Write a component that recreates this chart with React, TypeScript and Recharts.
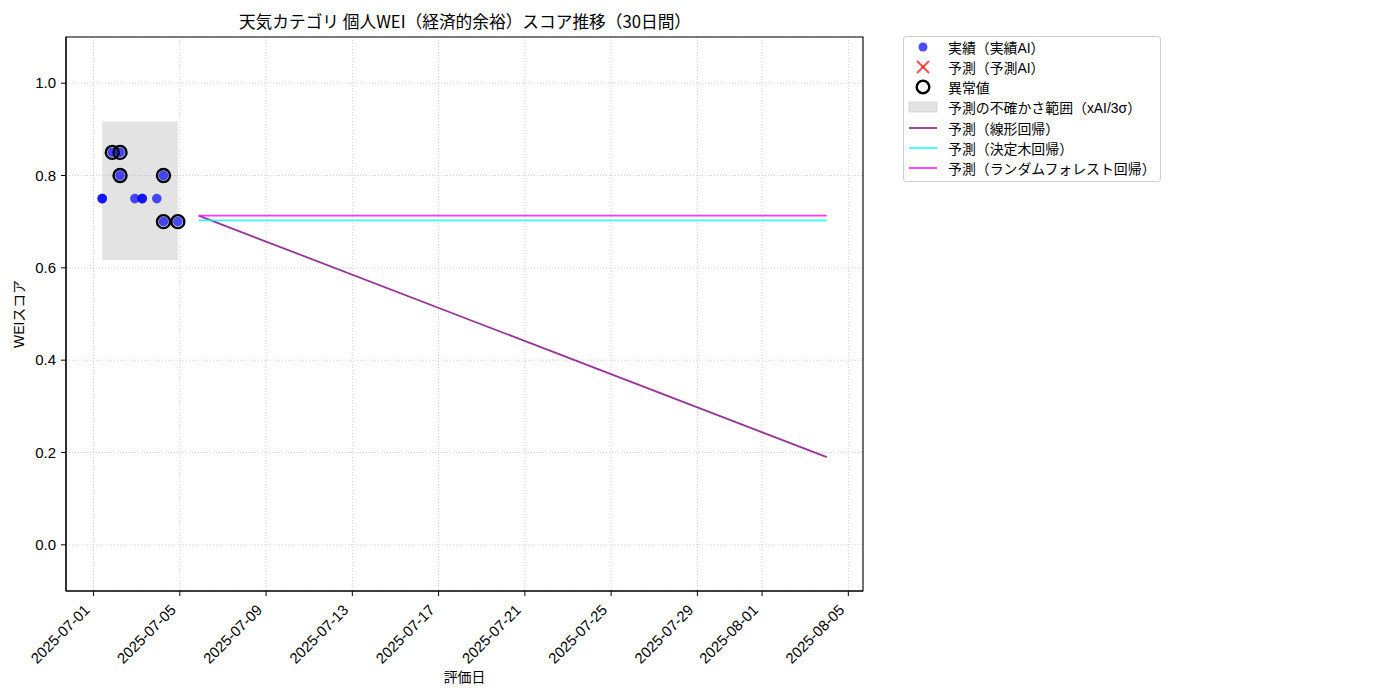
import React from 'react';
import { CartesianGrid, ComposedChart, Line, ReferenceArea, Scatter, XAxis, YAxis } from 'recharts';

const FONT = '"Noto Sans CJK JP", "Noto Sans", sans-serif';
const LATIN = '"Liberation Sans", "Noto Sans CJK JP", sans-serif';

// actual scores (実績AI)
const actualDates = [
  '2025-07-01T09:40', '2025-07-01T09:40', '2025-07-01T20:50', '2025-07-02T05:30', '2025-07-02T05:30',
  '2025-07-02T22:00', '2025-07-03T06:10', '2025-07-03T06:10', '2025-07-03T22:25', '2025-07-04T05:50',
  '2025-07-04T05:50', '2025-07-04T21:50',
];
const actualScores = [0.75, 0.75, 0.85, 0.85, 0.8, 0.75, 0.75, 0.75, 0.75, 0.8, 0.7, 0.7];

// anomalies (異常値)
const anomalyDates = [
  '2025-07-01T20:50', '2025-07-02T05:30', '2025-07-02T05:30', '2025-07-04T05:50', '2025-07-04T05:50',
  '2025-07-04T21:50',
];
const anomalyScores = [0.85, 0.85, 0.8, 0.8, 0.7, 0.7];

// forecasts
const forecastDates = ['2025-07-05T21:00', '2025-08-04T00:00'];
const linearForecast = [0.713, 0.19];
const treeForecast = [0.703, 0.703];
const forestForecast = [0.713, 0.713];

// uncertainty band (xAI/3σ)
const bandLower = 0.617;
const bandUpper = 0.917;

const tickDates = [
  '2025-07-01', '2025-07-05', '2025-07-09', '2025-07-13', '2025-07-17',
  '2025-07-21', '2025-07-25', '2025-07-29', '2025-08-01', '2025-08-05',
];
const yTicks = [0, 0.2, 0.4, 0.6, 0.8, 1.0];

const toTime = (s: string) => Date.parse(s.length === 10 ? s + 'T00:00:00Z' : s + ':00Z');
const zip = (dates: string[], vals: number[]) => dates.map((d, i) => ({ t: toTime(d), v: vals[i] }));

const actualData = zip(actualDates, actualScores);
const anomalyData = zip(anomalyDates, anomalyScores);
const linearData = zip(forecastDates, linearForecast);
const treeData = zip(forecastDates, treeForecast);
const forestData = zip(forecastDates, forestForecast);

const allTimes = [...actualData, ...linearData].map((d) => d.t);
const tMin = Math.min(...allTimes);
const tMax = Math.max(...allTimes);
const pad = (tMax - tMin) * 0.05;
const xDomain: [number, number] = [tMin - pad, tMax + pad];
const actualMin = Math.min(...actualData.map((d) => d.t));
const actualMax = Math.max(...actualData.map((d) => d.t));

const DateTick = (props: any) => {
  const { x, y, payload } = props;
  const label = new Date(payload.value).toISOString().slice(0, 10);
  return (
    <g transform={`translate(${x - 3},${y + 13})`}>
      <text textAnchor="end" transform="rotate(-45)" fontSize={14.8} fontFamily={LATIN} fill="#000">
        {label}
      </text>
    </g>
  );
};

const legendItems = [
  { key: 'actual', label: '実績（実績AI）' },
  { key: 'pred', label: '予測（予測AI）' },
  { key: 'anomaly', label: '異常値' },
  { key: 'band', label: '予測の不確かさ範囲（xAI/3σ）' },
  { key: 'linear', label: '予測（線形回帰）', color: '#800080' },
  { key: 'tree', label: '予測（決定木回帰）', color: '#00ffff' },
  { key: 'forest', label: '予測（ランダムフォレスト回帰）', color: '#ff00ff' },
];

function LegendMarker({ item }: { item: (typeof legendItems)[number] }) {
  const cy = 10;
  if (item.key === 'actual') return <circle cx={14} cy={cy} r={4.5} fill="#0000ff" fillOpacity={0.7} />;
  if (item.key === 'pred')
    return (
      <g stroke="#ff0000" strokeOpacity={0.7} strokeWidth={2}>
        <line x1={8} y1={cy - 6} x2={20} y2={cy + 6} />
        <line x1={8} y1={cy + 6} x2={20} y2={cy - 6} />
      </g>
    );
  if (item.key === 'anomaly') return <circle cx={14} cy={cy} r={6.3} fill="none" stroke="#000" strokeWidth={2.4} />;
  if (item.key === 'band')
    return <rect x={0} y={cy - 5} width={28} height={10} fill="#808080" fillOpacity={0.22} stroke="#c8c8c8" strokeWidth={0.6} />;
  return <line x1={0} y1={cy} x2={28} y2={cy} stroke={item.color} strokeOpacity={0.8} strokeWidth={1.8} />;
}

export default function App() {
  return (
    <div style={{ position: 'absolute', left: 0, top: 0, width: 1400, height: 700, fontFamily: FONT, background: '#fff' }}>
      <ComposedChart width={1400} height={700} margin={{ top: 37, right: 537, bottom: 0, left: 0 }}>
        <CartesianGrid stroke="#c4c4c4" strokeWidth={0.8} strokeDasharray="1.1 1.9" />
        <XAxis
          type="number"
          dataKey="t"
          domain={xDomain}
          allowDataOverflow
          ticks={tickDates.map(toTime)}
          height={109}
          tickSize={5}
          tickLine={{ stroke: '#000' }}
          axisLine={{ stroke: '#000', strokeWidth: 1.1 }}
          tick={<DateTick />}
          interval={0}
        />
        <YAxis
          type="number"
          dataKey="v"
          domain={[-0.1, 1.1]}
          allowDataOverflow
          ticks={yTicks}
          width={66}
          tickSize={5}
          tickMargin={5}
          tickLine={{ stroke: '#000' }}
          axisLine={{ stroke: '#000', strokeWidth: 1.1 }}
          tick={{ fill: '#000', fontSize: 15, fontFamily: LATIN }}
          tickFormatter={(v: number) => v.toFixed(1)}
          interval={0}
        />
        <ReferenceArea
          x1={actualMin}
          x2={actualMax}
          y1={bandLower}
          y2={bandUpper}
          fill="#808080"
          fillOpacity={0.22}
          stroke="none"
        />
        <Line data={linearData} dataKey="v" stroke="#800080" strokeOpacity={0.8} strokeWidth={1.8} dot={false} isAnimationActive={false} />
        <Line data={treeData} dataKey="v" stroke="#00ffff" strokeOpacity={0.8} strokeWidth={1.8} dot={false} isAnimationActive={false} />
        <Line data={forestData} dataKey="v" stroke="#ff00ff" strokeOpacity={0.8} strokeWidth={1.8} dot={false} isAnimationActive={false} />
        <Scatter
          data={actualData}
          dataKey="v"
          isAnimationActive={false}
          shape={(p: any) => <circle cx={p.cx} cy={p.cy} r={4.8} fill="#0000ff" fillOpacity={0.7} />}
        />
        <Scatter
          data={anomalyData}
          dataKey="v"
          isAnimationActive={false}
          shape={(p: any) => <circle cx={p.cx} cy={p.cy} r={6.5} fill="none" stroke="#000" strokeWidth={2.4} />}
        />
        <ReferenceArea x1={xDomain[0]} x2={xDomain[1]} y1={-0.1} y2={1.1} fill="none" stroke="#000" strokeWidth={1.1} ifOverflow="visible" />
      </ComposedChart>

      <div style={{ position: 'absolute', left: 0, width: 930, top: 9, textAlign: 'center', fontSize: 16.7, color: '#000', whiteSpace: 'nowrap' }}>
        天気カテゴリ 個人WEI（経済的余裕）スコア推移（30日間）
      </div>
      <div style={{ position: 'absolute', left: 66, width: 797, top: 666, textAlign: 'center', fontSize: 13.9, color: '#000', fontFamily: LATIN }}>
        評価日
      </div>
      <div
        style={{
          position: 'absolute',
          left: 18,
          top: 314,
          transform: 'translate(-50%, -50%) rotate(-90deg)',
          fontSize: 13.9,
          color: '#000',
          whiteSpace: 'nowrap',
          fontFamily: LATIN,
        }}
      >
        WEIスコア
      </div>

      <div
        style={{
          position: 'absolute',
          left: 903,
          top: 36,
          width: 256,
          height: 144,
          border: '1px solid #d0d0d0',
          borderRadius: 3,
          background: '#fff',
          fontFamily: LATIN,
        }}
      >
        {legendItems.map((item) => (
          <div key={item.key} style={{ display: 'flex', alignItems: 'center', height: 20.15 }}>
            <svg width={28} height={20} style={{ marginLeft: 5, marginRight: 11, overflow: 'visible' }}>
              <LegendMarker item={item} />
            </svg>
            <span style={{ fontSize: 13.9, color: '#000', whiteSpace: 'nowrap' }}>{item.label}</span>
          </div>
        ))}
      </div>
    </div>
  );
}
